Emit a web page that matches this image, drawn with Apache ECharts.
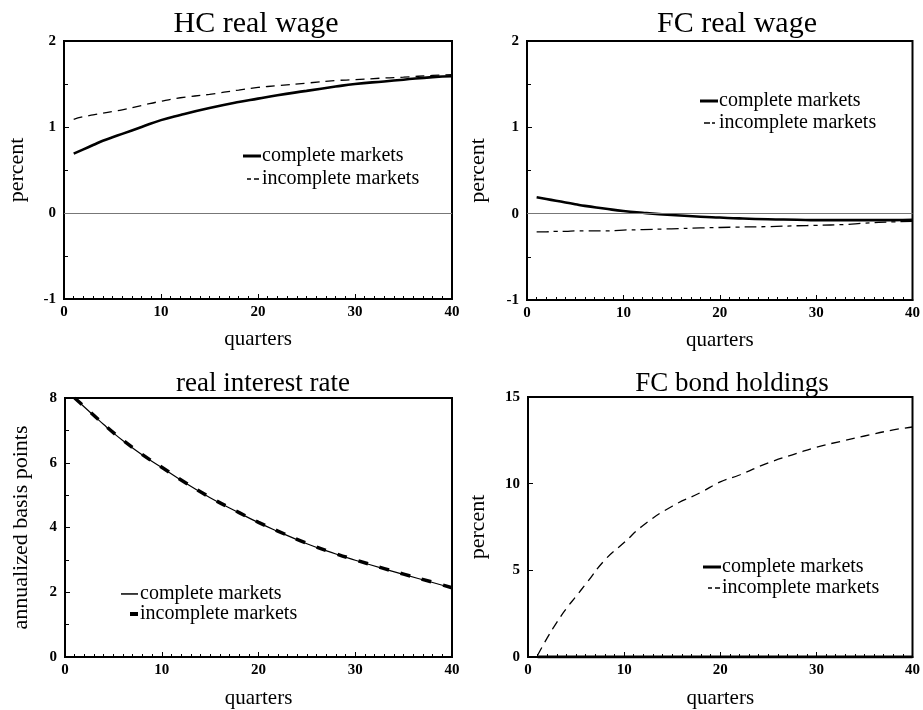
<!DOCTYPE html>
<html>
<head>
<meta charset="utf-8">
<script src="https://cdn.jsdelivr.net/npm/echarts@6/dist/echarts.min.js"></script>
<style>html,body{margin:0;padding:0;background:#fff}#c{width:923px;height:710px}</style>
</head>
<body>
<div id="c"></div>
<script>
// ---- data ----
const quarters = [1, 2, 3, 4, 5, 6, 8, 10, 12, 15, 18, 20, 22, 25, 28, 30, 33, 35, 38, 40];
const hcComplete   = [0.69, 0.74, 0.79, 0.84, 0.88, 0.92, 1.00, 1.08, 1.14, 1.22, 1.29, 1.33, 1.37, 1.42, 1.47, 1.50, 1.53, 1.55, 1.58, 1.59];
const hcIncomplete = [1.09, 1.12, 1.14, 1.16, 1.18, 1.20, 1.25, 1.30, 1.34, 1.38, 1.43, 1.46, 1.48, 1.51, 1.54, 1.55, 1.57, 1.58, 1.60, 1.61];
const fcComplete   = [0.19, 0.17, 0.15, 0.13, 0.11, 0.09, 0.06, 0.03, 0.01, -0.015, -0.035, -0.045, -0.055, -0.065, -0.07, -0.075, -0.075, -0.075, -0.075, -0.07];
const fcIncomplete = [-0.21, -0.21, -0.205, -0.205, -0.20, -0.20, -0.20, -0.19, -0.185, -0.175, -0.165, -0.16, -0.155, -0.15, -0.14, -0.135, -0.125, -0.11, -0.095, -0.09];
const rComplete    = [8.00, 7.72, 7.45, 7.18, 6.92, 6.68, 6.24, 5.85, 5.46, 4.92, 4.45, 4.15, 3.88, 3.50, 3.18, 2.99, 2.72, 2.55, 2.30, 2.13];
const rIncomplete  = [8.00, 7.73, 7.46, 7.19, 6.93, 6.69, 6.25, 5.86, 5.47, 4.93, 4.46, 4.16, 3.89, 3.51, 3.19, 3.00, 2.73, 2.56, 2.31, 2.14];
const bondComplete   = [0, 0, 0, 0, 0, 0, 0, 0, 0, 0, 0, 0, 0, 0, 0, 0, 0, 0, 0, 0];
const bondIncomplete = [0.1, 1.1, 2.0, 2.8, 3.5, 4.2, 5.6, 6.6, 7.6, 8.7, 9.5, 10.1, 10.5, 11.2, 11.75, 12.1, 12.5, 12.75, 13.1, 13.27];

const panelTitles = ['HC real wage', 'FC real wage', 'real interest rate', 'FC bond holdings'];
const yNames = ['percent', 'percent', 'annualized basis points', 'percent'];
const xName = 'quarters';
const legendLabels = { complete: 'complete markets', incomplete: 'incomplete markets' };

const FONT = "'Liberation Serif', 'Times New Roman', serif";
const pairs = (ys) => quarters.map((q, i) => [q, ys[i]]);

const grids = [
  { left: 64, top: 41, width: 388, height: 258 },
  { left: 527, top: 41, width: 386, height: 259 },
  { left: 65, top: 398, width: 387, height: 262 },
  { left: 528, top: 397, width: 385, height: 262 }
];
const yRanges = [
  { min: -1, max: 2, interval: 1, minor: 2 },
  { min: -1, max: 2, interval: 1, minor: 2 },
  { min: 0, max: 8, interval: 2, minor: 2 },
  { min: 0, max: 15, interval: 5, minor: 0 }
];
const yNameGaps = [36, 38, 33, 39];
const xNameGaps = [30, 30, 31, 31];

const xAxes = grids.map((g, i) => ({
  gridIndex: i, type: 'value', min: 0, max: 40, interval: 10,
  name: xName, nameLocation: 'middle', nameGap: xNameGaps[i],
  nameTextStyle: { fontFamily: FONT, fontSize: 21, color: '#000' },
  axisLine: { show: true, onZero: false, lineStyle: { color: '#000', width: 2 } },
  axisTick: { show: true, inside: true, length: 5, lineStyle: { color: '#000', width: 1 } },
  minorTick: { show: true, splitNumber: 10, length: 3, lineStyle: { color: '#000', width: 1 } },
  axisLabel: { fontFamily: FONT, fontSize: 15, fontWeight: 'bold', color: '#000', margin: 6 },
  splitLine: { show: false }
}));
const yAxes = grids.map((g, i) => ({
  gridIndex: i, type: 'value', min: yRanges[i].min, max: yRanges[i].max, interval: yRanges[i].interval,
  name: yNames[i], nameLocation: 'middle', nameGap: yNameGaps[i],
  nameTextStyle: { fontFamily: FONT, fontSize: 22, color: '#000' },
  axisLine: { show: true, onZero: false, lineStyle: { color: '#000', width: 2 } },
  axisTick: { show: true, inside: true, length: 5, lineStyle: { color: '#000', width: 1 } },
  minorTick: { show: yRanges[i].minor > 0, splitNumber: yRanges[i].minor || 2, length: 4, lineStyle: { color: '#000', width: 1 } },
  axisLabel: { fontFamily: FONT, fontSize: 15, fontWeight: 'bold', color: '#000', margin: 8 },
  splitLine: { show: false }
}));

const zeroLine = {
  silent: true, symbol: 'none', label: { show: false },
  lineStyle: { color: '#777', width: 1, type: 'solid' },
  data: [{ yAxis: 0 }]
};

const mk = (name, idx, ys, ls, extra) => Object.assign({
  name: name, type: 'line', xAxisIndex: idx, yAxisIndex: idx, data: pairs(ys), smooth: true,
  symbol: 'none', itemStyle: { color: '#000' }, lineStyle: Object.assign({ color: '#000' }, ls)
}, extra || {});

const series = [
  mk('p1c', 0, hcComplete, { width: 2.6 }, { markLine: zeroLine }),
  mk('p1i', 0, hcIncomplete, { width: 1.3, type: [9, 6] }),
  mk('p2c', 1, fcComplete, { width: 2.6 }, { markLine: zeroLine }),
  mk('p2i', 1, fcIncomplete, { width: 1.3, type: [12, 5, 4, 5] }),
  mk('p3c', 2, rComplete, { width: 1.2 }),
  mk('p3i', 2, rIncomplete, { width: 3.5, type: [10, 12] }),
  mk('p4c', 3, bondComplete, { width: 3 }),
  mk('p4i', 3, bondIncomplete, { width: 1.3, type: [9, 6] })
];

// legend key glyphs (18x12 boxes)
const FRAME = 'path://M0,0M18,12';
const legendIcons = [
  [FRAME + 'M0,4.5h18v3h-18z', FRAME + 'M4,5.3h4v1.5h-4zM11,5.3h5v1.5h-5z'],
  [FRAME + 'M0,4.5h18v3h-18z', FRAME + 'M4,5.3h6v1.5h-6zM12,5.3h3v1.5h-3z'],
  [FRAME + 'M0,5.2h17v1.5h-17z', FRAME + 'M9,4h8v4h-8z'],
  [FRAME + 'M0,4.5h18v3h-18z', FRAME + 'M5,5.3h4v1.5h-4zM12,5.3h5v1.5h-5z']
];
const legendPos = [
  { left: 243, top: 146, gap: 3 },
  { left: 700, top: 91, gap: 2 },
  { left: 121, top: 584, gap: 0 },
  { left: 703, top: 557, gap: 1 }
];
const legends = legendPos.map((p, i) => ({
  left: p.left, top: p.top, orient: 'vertical', itemGap: p.gap, padding: 0,
  itemWidth: 18, itemHeight: 12, selectedMode: false,
  data: [
    { name: 'p' + (i + 1) + 'c', icon: legendIcons[i][0] },
    { name: 'p' + (i + 1) + 'i', icon: legendIcons[i][1] }
  ],
  itemStyle: { color: '#000', borderWidth: 0 },
  formatter: (n) => n.endsWith('c') ? legendLabels.complete : legendLabels.incomplete,
  textStyle: { fontFamily: FONT, fontSize: 20, color: '#000', lineHeight: 20, padding: [0, 0, 0, -4] }
}));

const titleSpec = [
  { left: 251, top: 4, size: 30 }, { left: 732, top: 4, size: 30 },
  { left: 258, top: 365, size: 27 }, { left: 727, top: 365, size: 27 }
];
const titles = titleSpec.map((p, i) => ({
  text: panelTitles[i], left: p.left, top: p.top, textAlign: 'center',
  textStyle: { fontFamily: FONT, fontSize: p.size, fontWeight: 'normal', color: '#000' }
}));

const chart = echarts.init(document.getElementById('c'), null, { renderer: 'canvas' });
chart.setOption({
  animation: false,
  backgroundColor: '#fff',
  color: ['#000'],
  title: titles,
  legend: legends,
  grid: grids.map(g => Object.assign({ show: true, borderColor: '#000', borderWidth: 2, backgroundColor: 'transparent' }, g)),
  xAxis: xAxes,
  yAxis: yAxes,
  series: series
});
</script>
</body>
</html>
